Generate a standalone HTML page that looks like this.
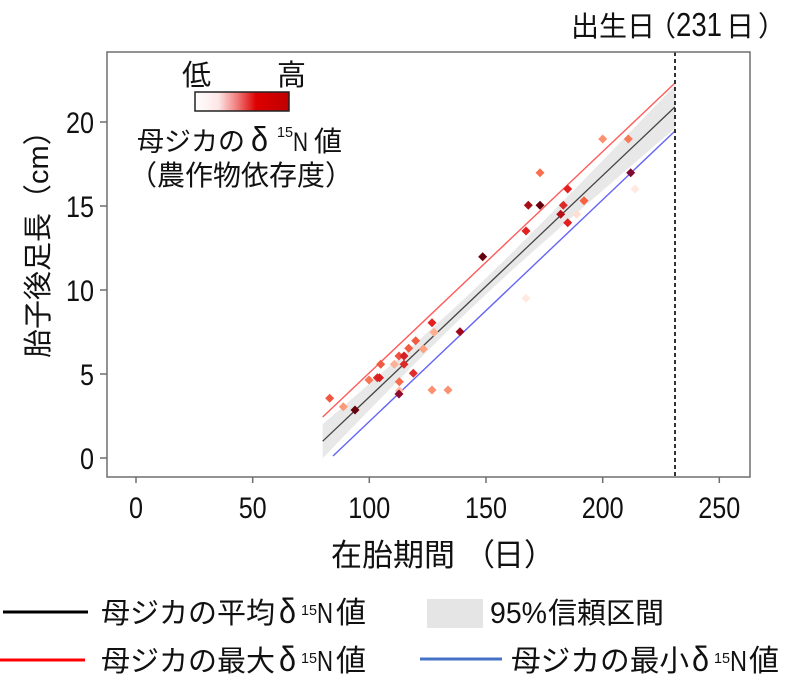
<!DOCTYPE html>
<html><head><meta charset="utf-8"><style>
html,body{margin:0;padding:0;background:#fff;}
svg{display:block;}
.cjk{font-family:"Liberation Sans","Noto Sans CJK JP",sans-serif;fill:#111;}
.num{font-family:"Liberation Sans Narrow","Liberation Sans",sans-serif;fill:#111;}
.dl{font-family:"Liberation Sans",sans-serif;fill:#111;}
</style></head><body>
<svg width="800" height="696" viewBox="0 0 800 696" xmlns="http://www.w3.org/2000/svg">
<defs>
<linearGradient id="cb" x1="0" y1="0" x2="1" y2="0">
<stop offset="0" stop-color="#ffffff"/>
<stop offset="0.25" stop-color="#fde6e6"/>
<stop offset="0.45" stop-color="#f07a7a"/>
<stop offset="0.65" stop-color="#dd0000"/>
<stop offset="1" stop-color="#c00000"/>
</linearGradient>
<clipPath id="pc"><rect x="107" y="52" width="643" height="425"/></clipPath>
</defs>
<rect width="800" height="696" fill="#fff"/>

<!-- CI band -->
<g clip-path="url(#pc)">
<polygon fill="#e8e8e8" points="322.7,424.2 346.0,404.1 369.3,383.8 392.7,363.4 416.0,342.7 439.3,321.8 462.7,300.2 486.0,278.1 509.3,255.4 532.7,232.0 556.0,208.4 579.3,184.5 602.7,160.5 626.0,136.3 649.3,112.1 675.0,85.5 675.0,128.3 649.3,150.3 626.0,170.3 602.7,190.5 579.3,210.7 556.0,231.2 532.7,251.8 509.3,272.8 486.0,294.3 462.7,316.4 439.3,339.2 416.0,362.5 392.7,386.2 369.3,410.0 346.0,434.1 322.7,458.2"/>
<line x1="322.7" y1="441.2" x2="675" y2="106.9" stroke="#444" stroke-width="1.3"/>
<line x1="322.7" y1="417" x2="675" y2="83" stroke="#ff5a5a" stroke-width="1.4"/>
<line x1="333" y1="456" x2="675" y2="131" stroke="#6464f5" stroke-width="1.4"/>
<line x1="675" y1="52" x2="675" y2="477" stroke="#333" stroke-width="2" stroke-dasharray="4 3"/>
</g>

<!-- points -->
<g>
<path fill="#f25540" d="M329.7 393.8l4.5 4.5l-4.5 4.5l-4.5-4.5z"/>
<path fill="#fb9a7a" d="M343.3 402.2l4.5 4.5l-4.5 4.5l-4.5-4.5z"/>
<path fill="#67000d" d="M355 405.5l4.5 4.5l-4.5 4.5l-4.5-4.5z"/>
<path fill="#f05a40" d="M380.7 359.8l4.5 4.5l-4.5 4.5l-4.5-4.5z"/>
<path fill="#fa7456" d="M369 375.5l4.5 4.5l-4.5 4.5l-4.5-4.5z"/>
<path fill="#e0282a" d="M377.3 373.2l4.5 4.5l-4.5 4.5l-4.5-4.5z"/>
<path fill="#d92020" d="M379.5 373.2l4.5 4.5l-4.5 4.5l-4.5-4.5z"/>
<path fill="#fbb098" d="M394.3 359.8l4.5 4.5l-4.5 4.5l-4.5-4.5z"/>
<path fill="#f05040" d="M399 351.5l4.5 4.5l-4.5 4.5l-4.5-4.5z"/>
<path fill="#d42024" d="M404 351.5l4.5 4.5l-4.5 4.5l-4.5-4.5z"/>
<path fill="#dd2a26" d="M404 359.8l4.5 4.5l-4.5 4.5l-4.5-4.5z"/>
<path fill="#fa6a4d" d="M399.3 377.2l4.5 4.5l-4.5 4.5l-4.5-4.5z"/>
<path fill="#fcbfa8" d="M399.3 386.2l4.5 4.5l-4.5 4.5l-4.5-4.5z"/>
<path fill="#900a30" d="M399 389.5l4.5 4.5l-4.5 4.5l-4.5-4.5z"/>
<path fill="#e42a28" d="M413.3 368.8l4.5 4.5l-4.5 4.5l-4.5-4.5z"/>
<path fill="#f25a42" d="M408.7 343.8l4.5 4.5l-4.5 4.5l-4.5-4.5z"/>
<path fill="#f25a42" d="M415.7 336.2l4.5 4.5l-4.5 4.5l-4.5-4.5z"/>
<path fill="#fca080" d="M423.3 344.5l4.5 4.5l-4.5 4.5l-4.5-4.5z"/>
<path fill="#fc9070" d="M432 385.5l4.5 4.5l-4.5 4.5l-4.5-4.5z"/>
<path fill="#fc9070" d="M448 385.5l4.5 4.5l-4.5 4.5l-4.5-4.5z"/>
<path fill="#e32020" d="M432 318.2l4.5 4.5l-4.5 4.5l-4.5-4.5z"/>
<path fill="#fcb090" d="M434 327.8l4.5 4.5l-4.5 4.5l-4.5-4.5z"/>
<path fill="#a0081a" d="M460 327.2l4.5 4.5l-4.5 4.5l-4.5-4.5z"/>
<path fill="#67000d" d="M482.7 252.2l4.5 4.5l-4.5 4.5l-4.5-4.5z"/>
<path fill="#e32020" d="M526 226.5l4.5 4.5l-4.5 4.5l-4.5-4.5z"/>
<path fill="#a50f15" d="M528.3 200.8l4.5 4.5l-4.5 4.5l-4.5-4.5z"/>
<path fill="#67000d" d="M540 200.8l4.5 4.5l-4.5 4.5l-4.5-4.5z"/>
<path fill="#fb7050" d="M540 168.2l4.5 4.5l-4.5 4.5l-4.5-4.5z"/>
<path fill="#e32020" d="M567.7 184.5l4.5 4.5l-4.5 4.5l-4.5-4.5z"/>
<path fill="#dd2a26" d="M563.3 200.8l4.5 4.5l-4.5 4.5l-4.5-4.5z"/>
<path fill="#b81018" d="M560.7 209.8l4.5 4.5l-4.5 4.5l-4.5-4.5z"/>
<path fill="#e32020" d="M567.7 218.2l4.5 4.5l-4.5 4.5l-4.5-4.5z"/>
<path fill="#fde0d2" d="M576.7 209.8l4.5 4.5l-4.5 4.5l-4.5-4.5z"/>
<path fill="#f76040" d="M584 196.2l4.5 4.5l-4.5 4.5l-4.5-4.5z"/>
<path fill="#fc9070" d="M602.7 134.5l4.5 4.5l-4.5 4.5l-4.5-4.5z"/>
<path fill="#f87a58" d="M628.3 134.5l4.5 4.5l-4.5 4.5l-4.5-4.5z"/>
<path fill="#800a30" d="M630.7 168.2l4.5 4.5l-4.5 4.5l-4.5-4.5z"/>
<path fill="#feeae0" d="M635 184.5l4.5 4.5l-4.5 4.5l-4.5-4.5z"/>
<path fill="#feeae0" d="M526 293.8l4.5 4.5l-4.5 4.5l-4.5-4.5z"/>
</g>

<!-- frame -->
<rect x="107" y="52" width="643" height="425" fill="none" stroke="#6e6e6e" stroke-width="1.5"/>
<g stroke="#6e6e6e" stroke-width="1.5">
<line x1="100" y1="458" x2="107" y2="458"/>
<line x1="100" y1="374" x2="107" y2="374"/>
<line x1="100" y1="290" x2="107" y2="290"/>
<line x1="100" y1="206" x2="107" y2="206"/>
<line x1="100" y1="122" x2="107" y2="122"/>
<line x1="136" y1="477" x2="136" y2="483"/>
<line x1="252.7" y1="477" x2="252.7" y2="483"/>
<line x1="369.3" y1="477" x2="369.3" y2="483"/>
<line x1="486" y1="477" x2="486" y2="483"/>
<line x1="602.7" y1="477" x2="602.7" y2="483"/>
<line x1="719.3" y1="477" x2="719.3" y2="483"/>
</g>
<g class="num" font-size="30" text-anchor="end">
<text x="94" y="469" textLength="14" lengthAdjust="spacingAndGlyphs">0</text>
<text x="94" y="385" textLength="14" lengthAdjust="spacingAndGlyphs">5</text>
<text x="94" y="301" textLength="28" lengthAdjust="spacingAndGlyphs">10</text>
<text x="94" y="217" textLength="28" lengthAdjust="spacingAndGlyphs">15</text>
<text x="94" y="133" textLength="28" lengthAdjust="spacingAndGlyphs">20</text>
</g>
<g class="num" font-size="30">
<text x="129" y="518" textLength="14" lengthAdjust="spacingAndGlyphs">0</text>
<text x="238.7" y="518" textLength="28" lengthAdjust="spacingAndGlyphs">50</text>
<text x="348.3" y="518" textLength="42" lengthAdjust="spacingAndGlyphs">100</text>
<text x="465" y="518" textLength="42" lengthAdjust="spacingAndGlyphs">150</text>
<text x="581.7" y="518" textLength="42" lengthAdjust="spacingAndGlyphs">200</text>
<text x="698.3" y="518" textLength="42" lengthAdjust="spacingAndGlyphs">250</text>
</g>

<!-- axis titles -->
<g class="cjk" font-size="31">
<text x="331" y="566">在胎期間</text>
<text x="464" y="566">（</text>
<text x="493" y="566">日</text>
<text x="524" y="566">）</text>
</g>
<text class="cjk" font-size="29" transform="translate(48,358) rotate(-90)">胎子後足長（<tspan font-family="Liberation Sans Narrow, Liberation Sans, sans-serif">cm</tspan>）</text>

<!-- top label -->
<g class="cjk" font-size="28">
<text x="571" y="36">出生日</text>
<text x="648" y="36">（</text>
<text class="num" x="676" y="36" font-size="33" textLength="46" lengthAdjust="spacingAndGlyphs">231</text>
<text x="726" y="36">日</text>
<text x="758" y="36">）</text>
</g>

<!-- color legend -->
<g class="cjk">
<text x="182" y="85" font-size="29">低</text>
<text x="277" y="85" font-size="29">高</text>
<rect x="195" y="92" width="94" height="19" fill="url(#cb)" stroke="#222" stroke-width="1.5"/>
<text x="137" y="151" font-size="27">母ジカの</text>
<text class="dl" x="251" y="151" font-size="34" textLength="17" lengthAdjust="spacingAndGlyphs">δ</text>
<text class="num" x="277" y="137" font-size="15" textLength="16" lengthAdjust="spacingAndGlyphs">15</text>
<text class="num" x="293" y="151" font-size="27" textLength="15" lengthAdjust="spacingAndGlyphs">N</text>
<text x="314" y="151" font-size="28">値</text>
<text x="129" y="185" font-size="28">（農作物依存度）</text>
</g>

<!-- bottom legend -->
<line x1="3" y1="612" x2="88" y2="612" stroke="#000" stroke-width="3"/>
<g class="cjk">
<text x="101" y="623" font-size="29">母ジカの平均</text>
<text class="dl" x="279" y="623" font-size="35" textLength="17" lengthAdjust="spacingAndGlyphs">δ</text>
<text class="num" x="301" y="615" font-size="15" textLength="16" lengthAdjust="spacingAndGlyphs">15</text>
<text class="num" x="317" y="623" font-size="29" textLength="16" lengthAdjust="spacingAndGlyphs">N</text>
<text x="336" y="623" font-size="30">値</text>
</g>
<rect x="427" y="599" width="56" height="29" fill="#e5e5e5"/>
<g class="cjk">
<text class="num" x="490" y="623" font-size="30" textLength="57" lengthAdjust="spacingAndGlyphs">95%</text>
<text x="548" y="623" font-size="29">信頼区間</text>
</g>
<line x1="0" y1="660" x2="85" y2="660" stroke="#ff0000" stroke-width="3"/>
<g class="cjk">
<text x="101" y="671" font-size="29">母ジカの最大</text>
<text class="dl" x="279" y="671" font-size="35" textLength="17" lengthAdjust="spacingAndGlyphs">δ</text>
<text class="num" x="301" y="663" font-size="15" textLength="16" lengthAdjust="spacingAndGlyphs">15</text>
<text class="num" x="317" y="671" font-size="29" textLength="16" lengthAdjust="spacingAndGlyphs">N</text>
<text x="336" y="671" font-size="30">値</text>
</g>
<line x1="420" y1="659" x2="502" y2="659" stroke="#4472c4" stroke-width="3"/>
<g class="cjk">
<text x="511" y="671" font-size="29.7">母ジカの最小</text>
<text class="dl" x="692" y="671" font-size="35" textLength="17" lengthAdjust="spacingAndGlyphs">δ</text>
<text class="num" x="714" y="663" font-size="15" textLength="16" lengthAdjust="spacingAndGlyphs">15</text>
<text class="num" x="730" y="671" font-size="29" textLength="17" lengthAdjust="spacingAndGlyphs">N</text>
<text x="749" y="671" font-size="30">値</text>
</g>
</svg>
</body></html>
